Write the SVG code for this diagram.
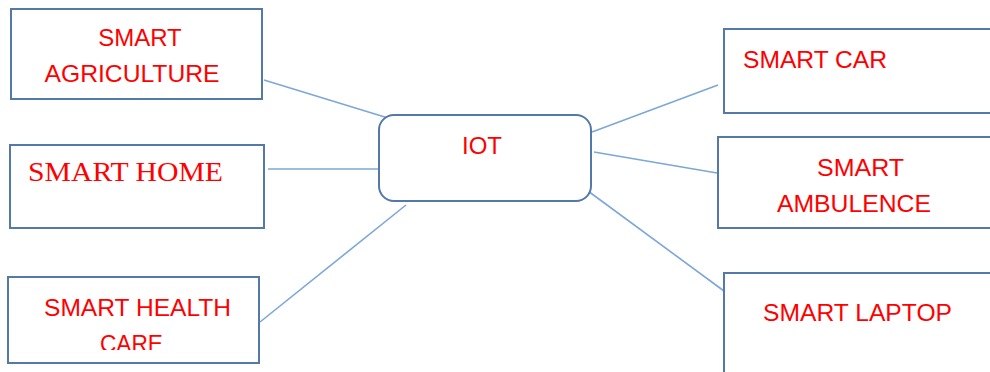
<svg xmlns="http://www.w3.org/2000/svg" width="990" height="372" viewBox="0 0 990 372">
<style>
.box{fill:#ffffff;stroke:#5479a8;stroke-width:2}
.lbl{fill:#ff0000;font-family:"Liberation Sans",Arial,sans-serif;font-size:24px}
.serif{fill:#ff0000;font-family:"Liberation Serif","Times New Roman",serif;font-size:28px}
.con line{stroke:#7ca7d8;stroke-width:1.6}
</style>
<defs>
<clipPath id="clipHC"><rect x="0" y="0" width="990" height="350"/></clipPath>
</defs>
<rect width="990" height="372" fill="#ffffff"/>
<g id="connectors" class="con">
<line x1="264" y1="80" x2="388" y2="118"/>
<line x1="268" y1="169" x2="380" y2="169"/>
<line x1="260" y1="322" x2="406" y2="205"/>
<line x1="592" y1="132" x2="718" y2="85"/>
<line x1="594" y1="152" x2="717" y2="173"/>
<line x1="588" y1="191" x2="724" y2="291"/>
</g>
<g id="smart-agriculture">
<rect class="box" x="11" y="9" width="251" height="90"/>
<text class="lbl" x="140" y="46" text-anchor="middle">SMART</text>
<text class="lbl" x="132" y="82" text-anchor="middle" textLength="175" lengthAdjust="spacingAndGlyphs">AGRICULTURE</text>
</g>
<g id="smart-home">
<rect class="box" x="10" y="145" width="254" height="83"/>
<text class="serif" x="28" y="181" textLength="195" lengthAdjust="spacingAndGlyphs">SMART HOME</text>
</g>
<g id="smart-health-care">
<rect class="box" x="8" y="277" width="251" height="86"/>
<text class="lbl" x="44" y="316" textLength="187" lengthAdjust="spacingAndGlyphs">SMART HEALTH</text>
<text class="lbl" x="100" y="352" textLength="63" lengthAdjust="spacingAndGlyphs" clip-path="url(#clipHC)">CARE</text>
</g>
<g id="iot">
<rect class="box" x="379" y="115" width="212" height="86" rx="15" ry="15"/>
<text class="lbl" x="482" y="154" text-anchor="middle">IOT</text>
</g>
<g id="smart-car">
<rect class="box" x="724" y="29" width="280" height="84"/>
<text class="lbl" x="743" y="68" textLength="144" lengthAdjust="spacingAndGlyphs">SMART CAR</text>
</g>
<g id="smart-ambulence">
<rect class="box" x="718" y="137" width="286" height="91"/>
<text class="lbl" x="817" y="176" textLength="87" lengthAdjust="spacingAndGlyphs">SMART</text>
<text class="lbl" x="777" y="212" textLength="154" lengthAdjust="spacingAndGlyphs">AMBULENCE</text>
</g>
<g id="smart-laptop">
<rect class="box" x="724" y="273" width="280" height="110"/>
<text class="lbl" x="763" y="321" textLength="189" lengthAdjust="spacingAndGlyphs">SMART LAPTOP</text>
</g>
</svg>
